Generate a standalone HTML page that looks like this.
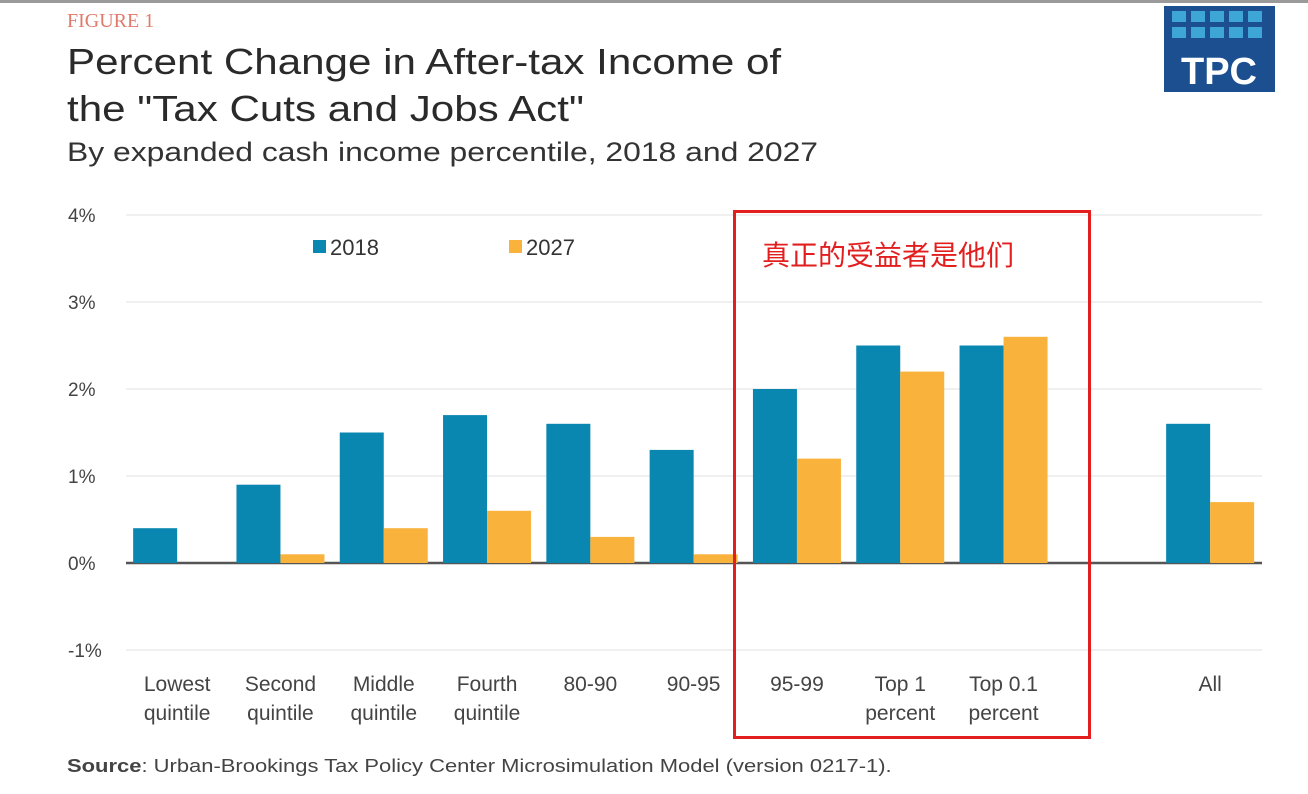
<!DOCTYPE html>
<html><head><meta charset="utf-8"><style>
body{margin:0;background:#fff;width:1308px;height:794px;overflow:hidden;position:relative;font-family:"Liberation Sans","Noto Sans CJK SC",sans-serif}
.abs{position:absolute}
.sx{transform-origin:0 0;white-space:nowrap}
</style></head><body>
<div class="abs" style="left:0;top:0;width:1308px;height:3px;background:#9a9a9a"></div>
<div class="abs" style="left:67px;top:10px;font-family:'Liberation Serif',serif;font-size:20px;color:#e07a6a">FIGURE 1</div>
<div class="abs sx" style="left:67px;top:38px;font-size:36px;line-height:47px;color:#2a2a2a;transform:scaleX(1.17)">Percent Change in After-tax Income of<br>the "Tax Cuts and Jobs Act"</div>
<div class="abs sx" style="left:67px;top:137px;font-size:27px;color:#333;transform:scaleX(1.18)">By expanded cash income percentile, 2018 and 2027</div>
<div class="abs" style="left:1164px;top:6px;width:111px;height:86px;background:#1b4f8f">
<svg width="111" height="86" style="position:absolute;left:0;top:0">
<g fill="#3ea6d6"><rect x="8" y="5" width="14" height="11"/><rect x="27" y="5" width="14" height="11"/><rect x="46" y="5" width="14" height="11"/><rect x="65" y="5" width="14" height="11"/><rect x="84" y="5" width="14" height="11"/>
<rect x="8" y="21" width="14" height="11"/><rect x="27" y="21" width="14" height="11"/><rect x="46" y="21" width="14" height="11"/><rect x="65" y="21" width="14" height="11"/><rect x="84" y="21" width="14" height="11"/></g>
<text x="55" y="78" text-anchor="middle" font-family="Liberation Sans" font-weight="bold" font-size="38" fill="#fff">TPC</text></svg></div>
<svg class="abs" id="chart" style="left:0;top:0" width="1308" height="794"></svg>
<div class="abs sx" style="left:67px;top:756px;font-size:18px;color:#444;transform:scaleX(1.22)"><b>Source</b>: Urban-Brookings Tax Policy Center Microsimulation Model (version 0217-1).</div>
<div class="abs" style="left:733px;top:210px;width:352px;height:523px;border:3px solid #e31e1e"></div>
<div class="abs" style="left:762px;top:234px;font-size:28px;color:#e31e1e;font-family:'Noto Sans CJK SC',sans-serif">真正的受益者是他们</div>
<script>
const categories=[["Lowest","quintile"],["Second","quintile"],["Middle","quintile"],["Fourth","quintile"],["80-90"],["90-95"],["95-99"],["Top 1","percent"],["Top 0.1","percent"],null,["All"]];
const values2018=[0.4,0.9,1.5,1.7,1.6,1.3,2.0,2.5,2.5,null,1.6];
const values2027=[0.0,0.1,0.4,0.6,0.3,0.1,1.2,2.2,2.6,null,0.7];
const yTicks=[4,3,2,1,0,-1];
const yTickLabels=["4%","3%","2%","1%","0%","-1%"];
const svg=document.getElementById('chart');
const NS='http://www.w3.org/2000/svg';
const y=v=>563-v*87;
const slot=103.3, x0=125;
const cx=i=>x0+slot*(i+0.5)+0.5;
function mk(t,a){const e=document.createElementNS(NS,t);for(const k in a)e.setAttribute(k,a[k]);svg.appendChild(e);return e;}
yTicks.forEach((t,i)=>{
 const l=mk('line',{x1:126,x2:1262,y1:y(t),y2:y(t),stroke:t===0?'#555':'#ececec','stroke-width':t===0?2.5:1.5});
 
 
 const tx=mk('text',{x:68,y:y(t)+7,'font-size':19,fill:'#444','font-family':'Liberation Sans'});
 tx.textContent=yTickLabels[i];
 
 
});
categories.forEach((c,i)=>{
 if(!c)return;
 const c2018=values2018[i], c2027=values2027[i];
 if(c2018>0){const r=mk('rect',{x:cx(i)-44,y:y(c2018),width:44,height:y(0)-y(c2018),fill:'#0a87b0'});
 
 }
 if(c2027>0){const r=mk('rect',{x:cx(i),y:y(c2027),width:44,height:y(0)-y(c2027),fill:'#f9b23c'});
 
 }
 c.forEach((s,j)=>{const t=mk('text',{x:cx(i),y:691+j*29,'text-anchor':'middle','font-size':21,fill:'#444','font-family':'Liberation Sans'});
 t.textContent=s;
 
 });
});
[[313,'#0a87b0','2018'],[509,'#f9b23c','2027']].forEach(([lx,col,lab])=>{
 const r=mk('rect',{x:lx,y:240,width:13,height:13,fill:col});
 
 
 const t=mk('text',{x:lx+17,y:255,'font-size':22,fill:'#333','font-family':'Liberation Sans'});
 t.textContent=lab;
 
 
});
</script>
</body></html>
